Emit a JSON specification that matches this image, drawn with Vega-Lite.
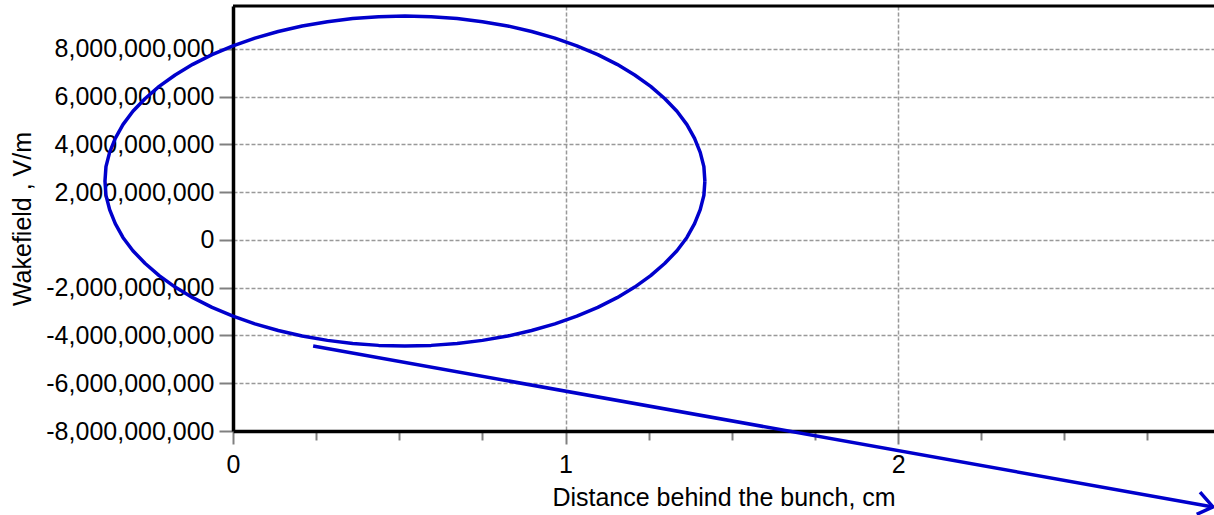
{
  "$schema": "https://vega.github.io/schema/vega-lite/v6.json",
  "width": 981,
  "height": 425,
  "autosize": {"type": "none"},
  "padding": {"left": 233, "top": 6, "right": 0, "bottom": 84},
  "background": "white",
  "datasets": {
    "curve": [
      {"part": "ellipse", "i": 0, "x": 1.419, "y": 2.47e9},
      {"part": "ellipse", "i": 1, "x": 1.416, "y": 3.073e9},
      {"part": "ellipse", "i": 2, "x": 1.405, "y": 3.670e9},
      {"part": "ellipse", "i": 3, "x": 1.388, "y": 4.258e9},
      {"part": "ellipse", "i": 4, "x": 1.365, "y": 4.833e9},
      {"part": "ellipse", "i": 5, "x": 1.335, "y": 5.390e9},
      {"part": "ellipse", "i": 6, "x": 1.298, "y": 5.925e9},
      {"part": "ellipse", "i": 7, "x": 1.256, "y": 6.434e9},
      {"part": "ellipse", "i": 8, "x": 1.208, "y": 6.912e9},
      {"part": "ellipse", "i": 9, "x": 1.155, "y": 7.356e9},
      {"part": "ellipse", "i": 10, "x": 1.097, "y": 7.763e9},
      {"part": "ellipse", "i": 11, "x": 1.034, "y": 8.131e9},
      {"part": "ellipse", "i": 12, "x": 0.968, "y": 8.454e9},
      {"part": "ellipse", "i": 13, "x": 0.898, "y": 8.733e9},
      {"part": "ellipse", "i": 14, "x": 0.826, "y": 8.963e9},
      {"part": "ellipse", "i": 15, "x": 0.750, "y": 9.144e9},
      {"part": "ellipse", "i": 16, "x": 0.674, "y": 9.275e9},
      {"part": "ellipse", "i": 17, "x": 0.596, "y": 9.354e9},
      {"part": "ellipse", "i": 18, "x": 0.517, "y": 9.380e9},
      {"part": "ellipse", "i": 19, "x": 0.438, "y": 9.354e9},
      {"part": "ellipse", "i": 20, "x": 0.360, "y": 9.275e9},
      {"part": "ellipse", "i": 21, "x": 0.284, "y": 9.144e9},
      {"part": "ellipse", "i": 22, "x": 0.208, "y": 8.963e9},
      {"part": "ellipse", "i": 23, "x": 0.136, "y": 8.733e9},
      {"part": "ellipse", "i": 24, "x": 0.066, "y": 8.454e9},
      {"part": "ellipse", "i": 25, "x": 0.000, "y": 8.131e9},
      {"part": "ellipse", "i": 26, "x": -0.063, "y": 7.763e9},
      {"part": "ellipse", "i": 27, "x": -0.121, "y": 7.356e9},
      {"part": "ellipse", "i": 28, "x": -0.174, "y": 6.912e9},
      {"part": "ellipse", "i": 29, "x": -0.222, "y": 6.434e9},
      {"part": "ellipse", "i": 30, "x": -0.264, "y": 5.925e9},
      {"part": "ellipse", "i": 31, "x": -0.301, "y": 5.390e9},
      {"part": "ellipse", "i": 32, "x": -0.331, "y": 4.833e9},
      {"part": "ellipse", "i": 33, "x": -0.354, "y": 4.258e9},
      {"part": "ellipse", "i": 34, "x": -0.371, "y": 3.670e9},
      {"part": "ellipse", "i": 35, "x": -0.382, "y": 3.073e9},
      {"part": "ellipse", "i": 36, "x": -0.385, "y": 2.470e9},
      {"part": "ellipse", "i": 37, "x": -0.382, "y": 1.867e9},
      {"part": "ellipse", "i": 38, "x": -0.371, "y": 1.270e9},
      {"part": "ellipse", "i": 39, "x": -0.354, "y": 0.682e9},
      {"part": "ellipse", "i": 40, "x": -0.331, "y": 0.107e9},
      {"part": "ellipse", "i": 41, "x": -0.301, "y": -0.450e9},
      {"part": "ellipse", "i": 42, "x": -0.264, "y": -0.985e9},
      {"part": "ellipse", "i": 43, "x": -0.222, "y": -1.494e9},
      {"part": "ellipse", "i": 44, "x": -0.174, "y": -1.972e9},
      {"part": "ellipse", "i": 45, "x": -0.121, "y": -2.416e9},
      {"part": "ellipse", "i": 46, "x": -0.063, "y": -2.823e9},
      {"part": "ellipse", "i": 47, "x": 0.000, "y": -3.191e9},
      {"part": "ellipse", "i": 48, "x": 0.066, "y": -3.514e9},
      {"part": "ellipse", "i": 49, "x": 0.136, "y": -3.793e9},
      {"part": "ellipse", "i": 50, "x": 0.208, "y": -4.023e9},
      {"part": "ellipse", "i": 51, "x": 0.284, "y": -4.204e9},
      {"part": "ellipse", "i": 52, "x": 0.360, "y": -4.335e9},
      {"part": "ellipse", "i": 53, "x": 0.438, "y": -4.414e9},
      {"part": "ellipse", "i": 54, "x": 0.517, "y": -4.440e9},
      {"part": "ellipse", "i": 55, "x": 0.596, "y": -4.414e9},
      {"part": "ellipse", "i": 56, "x": 0.674, "y": -4.335e9},
      {"part": "ellipse", "i": 57, "x": 0.750, "y": -4.204e9},
      {"part": "ellipse", "i": 58, "x": 0.826, "y": -4.023e9},
      {"part": "ellipse", "i": 59, "x": 0.898, "y": -3.793e9},
      {"part": "ellipse", "i": 60, "x": 0.968, "y": -3.514e9},
      {"part": "ellipse", "i": 61, "x": 1.034, "y": -3.191e9},
      {"part": "ellipse", "i": 62, "x": 1.097, "y": -2.823e9},
      {"part": "ellipse", "i": 63, "x": 1.155, "y": -2.416e9},
      {"part": "ellipse", "i": 64, "x": 1.208, "y": -1.972e9},
      {"part": "ellipse", "i": 65, "x": 1.256, "y": -1.494e9},
      {"part": "ellipse", "i": 66, "x": 1.298, "y": -0.985e9},
      {"part": "ellipse", "i": 67, "x": 1.335, "y": -0.450e9},
      {"part": "ellipse", "i": 68, "x": 1.365, "y": 0.107e9},
      {"part": "ellipse", "i": 69, "x": 1.388, "y": 0.682e9},
      {"part": "ellipse", "i": 70, "x": 1.405, "y": 1.270e9},
      {"part": "ellipse", "i": 71, "x": 1.416, "y": 1.867e9},
      {"part": "ellipse", "i": 72, "x": 1.419, "y": 2.470e9},
      {"part": "arrow", "i": 0, "x": 0.241, "y": -4.44e9},
      {"part": "arrow", "i": 1, "x": 2.947, "y": -11.18e9},
      {"part": "head", "i": 0, "x": 2.908, "y": -10.56e9},
      {"part": "head", "i": 1, "x": 2.947, "y": -11.18e9},
      {"part": "head", "i": 2, "x": 2.898, "y": -11.49e9}
    ]
  },
  "layer": [
    {
      "data": {"name": "curve"},
      "mark": {"type": "line", "clip": false, "color": "#0000CC", "strokeWidth": 3.5, "strokeCap": "butt", "strokeJoin": "round"},
      "encoding": {
        "x": {
          "field": "x",
          "type": "quantitative",
          "scale": {"domain": [0, 2.95], "nice": false, "zero": false},
          "axis": {
            "title": "Distance behind the bunch, cm",
            "values": [0, 0.25, 0.5, 0.75, 1, 1.25, 1.5, 1.75, 2, 2.25, 2.5, 2.75],
            "labelExpr": "datum.value % 1 === 0 ? format(datum.value, 'd') : ''",
            "tickSize": {"condition": {"test": "datum.value % 1 === 0", "value": 13}, "value": 9},
            "gridOpacity": {"condition": {"test": "datum.value % 1 === 0", "value": 1}, "value": 0},
            "labelPadding": 8,
            "titlePadding": 8
          }
        },
        "y": {
          "field": "y",
          "type": "quantitative",
          "scale": {"domain": [-8e9, 9.8e9], "nice": false, "zero": false},
          "axis": {
            "title": "Wakefield , V/m",
            "values": [-8e9, -7.5e9, -7e9, -6.5e9, -6e9, -5.5e9, -5e9, -4.5e9, -4e9, -3.5e9, -3e9, -2.5e9, -2e9, -1.5e9, -1e9, -0.5e9, 0, 0.5e9, 1e9, 1.5e9, 2e9, 2.5e9, 3e9, 3.5e9, 4e9, 4.5e9, 5e9, 5.5e9, 6e9, 6.5e9, 7e9, 7.5e9, 8e9, 8.5e9, 9e9, 9.5e9],
            "labelExpr": "datum.value % 2000000000 === 0 ? replace(format(datum.value, ','), '\u2212', '-') : ''",
            "tickSize": {"condition": {"test": "datum.value % 2000000000 === 0", "value": 14}, "value": 8},
            "gridOpacity": {"condition": {"test": "datum.value % 2000000000 === 0", "value": 1}, "value": 0},
            "labelPadding": 5,
            "titlePadding": 10
          }
        },
        "detail": {"field": "part", "type": "nominal"},
        "order": {"field": "i", "type": "quantitative"}
      }
    },
    {
      "data": {"values": [{"edge": "top"}]},
      "mark": {"type": "rule", "color": "black", "strokeWidth": 3},
      "encoding": {"y": {"datum": 9.8e9}}
    }
  ],
  "config": {
    "view": {"stroke": null},
    "axis": {
      "domainColor": "black",
      "domainWidth": 3.5,
      "tickColor": "#808080",
      "tickWidth": 2,
      "grid": true,
      "gridColor": "#999999",
      "gridDash": [4, 2],
      "gridWidth": 1.5,
      "labelFont": "Liberation Sans",
      "labelFontSize": 25,
      "labelColor": "black",
      "titleFont": "Liberation Sans",
      "titleFontSize": 25,
      "titleFontWeight": "normal",
      "titleColor": "black",
      "labelOverlap": false,
      "labelFlush": false,
      "labelBound": false
    }
  }
}
